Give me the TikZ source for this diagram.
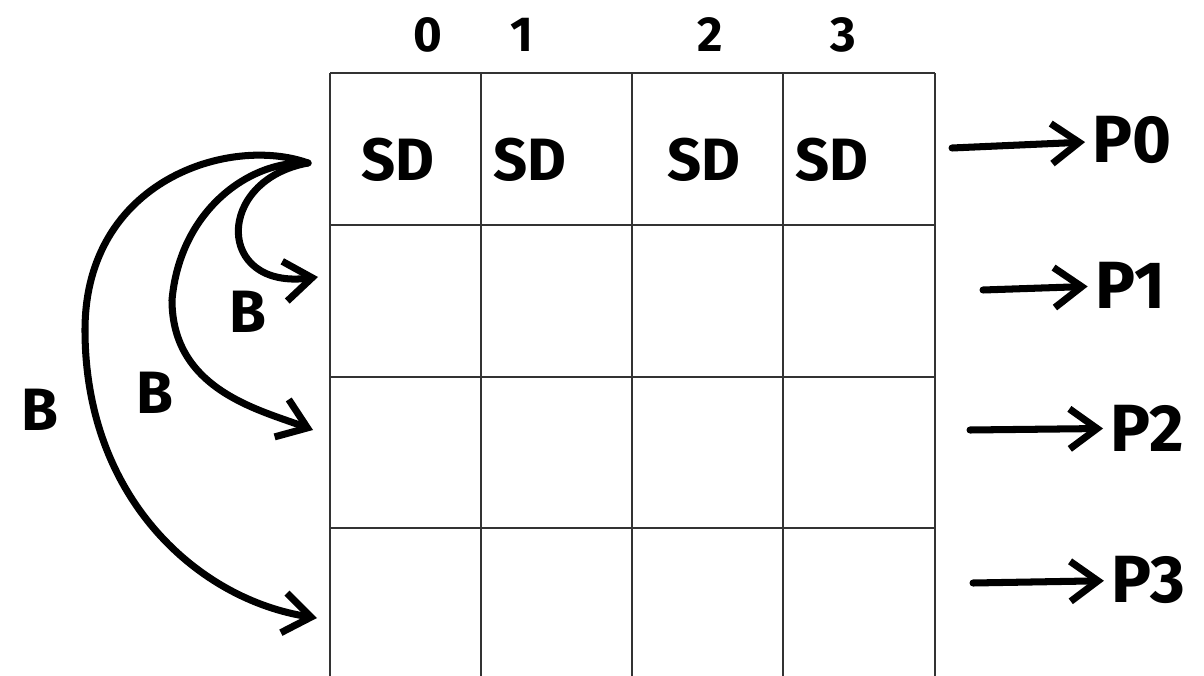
\documentclass[tikz,border=0pt]{standalone}
\usepackage{fontspec}
\setmainfont{Fira Sans}
\usetikzlibrary{arrows.meta}

\tikzset{
  gridline/.style={draw=black!80, line width=1.6pt},
  colnum/.style={font=\fontsize{28}{32}\selectfont\bfseries},
  hand/.style={font=\fontsize{34}{38}\selectfont\bfseries, inner sep=2pt},
  proc/.style={font=\fontsize{38}{42}\selectfont\bfseries, inner sep=4pt},
  pointer/.style={line width=4pt, line cap=round, line join=round,
    -{Straight Barb[length=0.55cm, width=0.8cm]}},
}

\begin{document}
\begin{tikzpicture}
\useasboundingbox (0,0) rectangle (24.08,-13.52);

%GRID
\draw[gridline] (6.6,-1.46) -- (18.7,-1.46);
\draw[gridline] (6.6,-4.5) -- (18.7,-4.5);
\draw[gridline] (6.6,-7.54) -- (18.7,-7.54);
\draw[gridline] (6.6,-10.56) -- (18.7,-10.56);
\draw[gridline] (6.6,-1.46) -- (6.6,-13.6);
\draw[gridline] (9.62,-1.46) -- (9.62,-13.6);
\draw[gridline] (12.64,-1.46) -- (12.64,-13.6);
\draw[gridline] (15.66,-1.46) -- (15.66,-13.6);
\draw[gridline] (18.7,-1.46) -- (18.7,-13.6);

%COLUMN INDICES
\node[colnum] (col0) at (8.56,-0.7) {0};
\node[colnum] (col1) at (10.44,-0.7) {1};
\node[colnum] (col2) at (14.2,-0.7) {2};
\node[colnum] (col3) at (16.86,-0.7) {3};

%FIRST ROW
\node[hand] (sd0) at (7.96,-3.2) {SD};
\node[hand] (sd1) at (10.6,-3.2) {SD};
\node[hand] (sd2) at (14.08,-3.2) {SD};
\node[hand] (sd3) at (16.64,-3.2) {SD};

%PROCESSORS
\coordinate (a0) at (19.04,-2.96);
\node[proc] (p0) at (22.64,-2.8) {P0};
\draw[pointer] (a0) -- (p0);
\coordinate (a1) at (19.66,-5.8);
\node[proc] (p1) at (22.6,-5.7) {P1};
\draw[pointer] (a1) -- (p1);
\coordinate (a2) at (19.4,-8.6);
\node[proc] (p2) at (22.94,-8.56) {P2};
\draw[pointer] (a2) -- (p2);
\coordinate (a3) at (19.46,-11.66);
\node[proc] (p3) at (22.96,-11.6) {P3};
\draw[pointer] (a3) -- (p3);

%BROADCAST
\coordinate (src) at (6.16,-3.26);
\coordinate (t1) at (6.36,-5.54);
\coordinate (t2) at (6.26,-8.6);
\coordinate (t3) at (6.34,-12.36);

\draw[pointer] (src) .. controls (4.3,-3.6) and (4.3,-5.8) .. (t1);
\draw[pointer] (src) .. controls (5.0,-3.2) and (3.6,-4.2) .. (3.44,-6.0)
  .. controls (3.44,-7.8) and (5.2,-8.2) .. (t2);
\draw[pointer] (src) .. controls (4.6,-2.7) and (1.7,-3.6) .. (1.7,-6.6)
  .. controls (1.7,-10.0) and (4.0,-12.0) .. (t3);

\node[hand] (b1) at (4.96,-6.24) {B};
\node[hand] (b2) at (3.1,-7.86) {B};
\node[hand] (b3) at (0.8,-8.2) {B};

\end{tikzpicture}
\end{document}
